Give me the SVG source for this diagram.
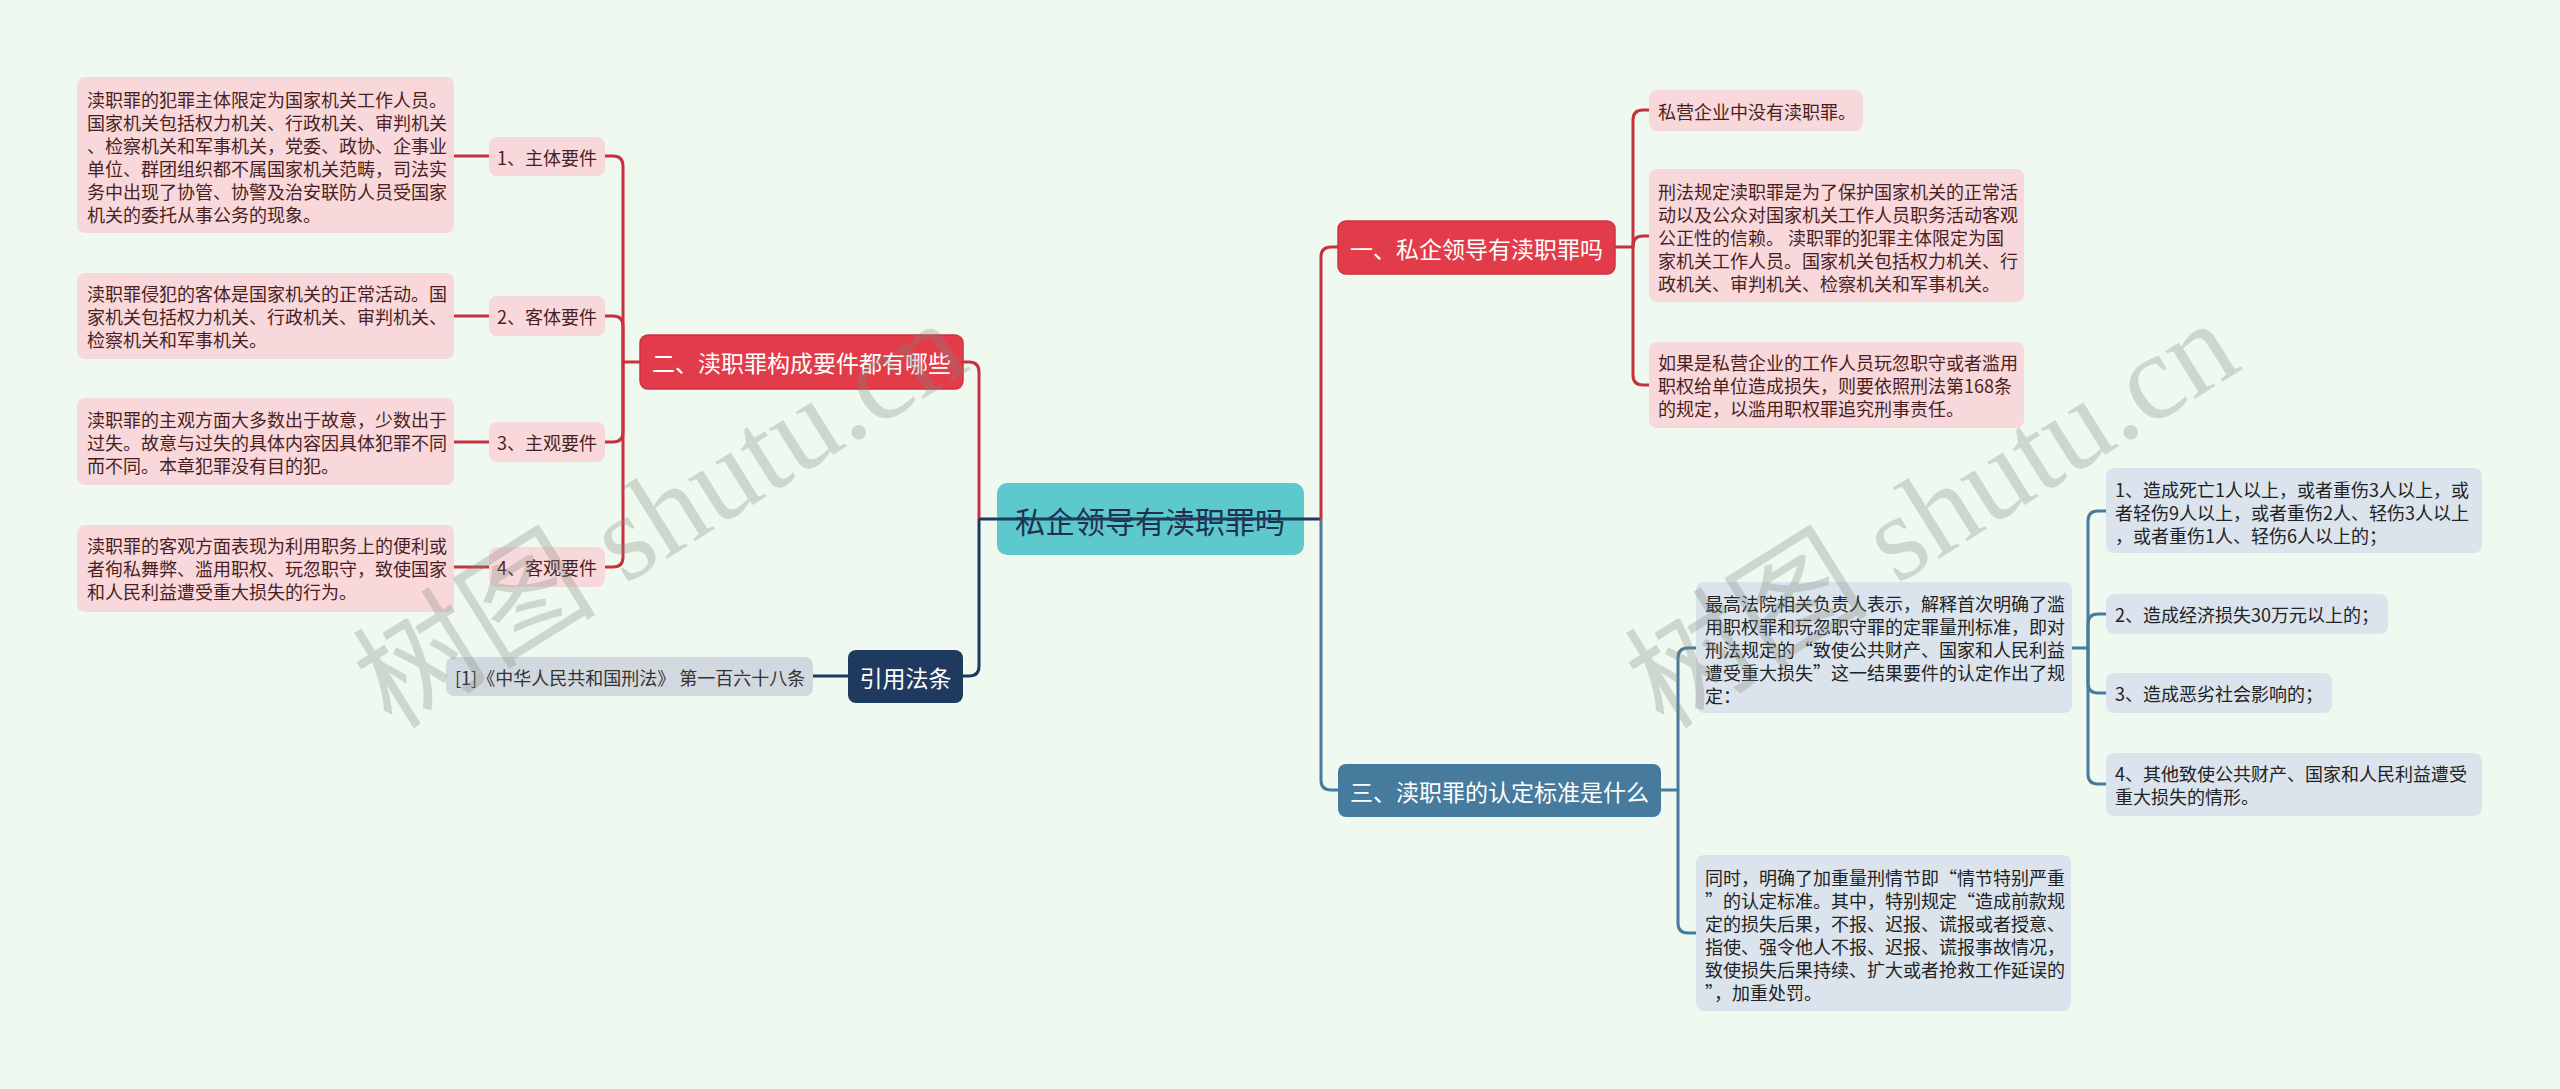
<svg xmlns="http://www.w3.org/2000/svg" width="2560" height="1089" viewBox="0 0 2560 1089">
<style>
text{font-family:"Noto Sans CJK SC","Liberation Sans",sans-serif;dominant-baseline:central}
.pk{fill:#f8d8db}
.pt{font-size:18px;fill:#4a1f22}
.bl{fill:#dbe4ec}
.bt{font-size:18px;fill:#222}
.red{fill:#e23c4a;stroke:#cf3140;stroke-width:1.5}
.wt{font-size:23px;fill:#fff;text-anchor:middle}
.c{fill:none;stroke-width:3;stroke-linejoin:round}
.cr{stroke:#c7313e}
.cn{stroke:#1f3a5f}
.cb{stroke:#467b9e}
.wm{font-family:"Liberation Serif","Noto Sans CJK SC",serif;font-size:122px;fill:#7f8a80;opacity:0.3;text-anchor:middle}
</style>
<rect width="2560" height="1089" fill="#f0f9ef"/>

<g id="center">
<rect x="997" y="483" width="307" height="72" rx="10" fill="#5ec9cc"/>
<text x="1150" y="520" style="font-size:30px;fill:#1e3250;text-anchor:middle">私企领导有渎职罪吗</text>
</g>

<g id="b2">
<rect class="red" x="640" y="335" width="323" height="54" rx="8"/>
<text class="wt" x="801.5" y="362">二、渎职罪构成要件都有哪些</text>
</g>
<g id="b2-1">
<rect class="pk" x="489" y="137" width="116" height="39" rx="8"/>
<text class="pt" x="547" y="156.5" text-anchor="middle">1、主体要件</text>
</g>
<g id="b2-1-t">
<rect class="pk" x="77" y="77" width="377" height="156" rx="8"/>
<text class="pt" x="87" y="99">渎职罪的犯罪主体限定为国家机关工作人员。</text>
<text class="pt" x="87" y="122">国家机关包括权力机关、行政机关、审判机关</text>
<text class="pt" x="87" y="145">、检察机关和军事机关，党委、政协、企事业</text>
<text class="pt" x="87" y="168">单位、群团组织都不属国家机关范畴，司法实</text>
<text class="pt" x="87" y="191">务中出现了协管、协警及治安联防人员受国家</text>
<text class="pt" x="87" y="214">机关的委托从事公务的现象。</text>
</g>
<g id="b2-2">
<rect class="pk" x="489" y="296" width="116" height="40" rx="8"/>
<text class="pt" x="547" y="316" text-anchor="middle">2、客体要件</text>
</g>
<g id="b2-2-t">
<rect class="pk" x="77" y="273" width="377" height="86" rx="8"/>
<text class="pt" x="87" y="293">渎职罪侵犯的客体是国家机关的正常活动。国</text>
<text class="pt" x="87" y="316">家机关包括权力机关、行政机关、审判机关、</text>
<text class="pt" x="87" y="339">检察机关和军事机关。</text>
</g>
<g id="b2-3">
<rect class="pk" x="489" y="422" width="116" height="40" rx="8"/>
<text class="pt" x="547" y="442" text-anchor="middle">3、主观要件</text>
</g>
<g id="b2-3-t">
<rect class="pk" x="77" y="398" width="377" height="87" rx="8"/>
<text class="pt" x="87" y="419">渎职罪的主观方面大多数出于故意，少数出于</text>
<text class="pt" x="87" y="442">过失。故意与过失的具体内容因具体犯罪不同</text>
<text class="pt" x="87" y="465">而不同。本章犯罪没有目的犯。</text>
</g>
<g id="b2-4">
<rect class="pk" x="489" y="547" width="116" height="40" rx="8"/>
<text class="pt" x="547" y="567" text-anchor="middle">4、客观要件</text>
</g>
<g id="b2-4-t">
<rect class="pk" x="77" y="525" width="377" height="87" rx="8"/>
<text class="pt" x="87" y="545">渎职罪的客观方面表现为利用职务上的便利或</text>
<text class="pt" x="87" y="568">者徇私舞弊、滥用职权、玩忽职守，致使国家</text>
<text class="pt" x="87" y="591">和人民利益遭受重大损失的行为。</text>
</g>

<g id="ref">
<rect x="848" y="650" width="115" height="53" rx="8" fill="#1f3a5f"/>
<text class="wt" x="905.5" y="676.5">引用法条</text>
</g>
<g id="ref-1">
<rect x="446" y="657" width="367" height="39" rx="8" fill="#d2d8df"/>
<text x="455" y="676.5" style="font-size:18px;fill:#333">[1]《中华人民共和国刑法》 第一百六十八条</text>
</g>

<g id="b1">
<rect class="red" x="1338" y="221" width="277" height="53" rx="8"/>
<text class="wt" x="1476.5" y="247.5">一、私企领导有渎职罪吗</text>
</g>
<g id="b1-1">
<rect class="pk" x="1649" y="90" width="214" height="41" rx="8"/>
<text class="pt" x="1658" y="111">私营企业中没有渎职罪。</text>
</g>
<g id="b1-2">
<rect class="pk" x="1649" y="169" width="375" height="133" rx="8"/>
<text class="pt" x="1658" y="191">刑法规定渎职罪是为了保护国家机关的正常活</text>
<text class="pt" x="1658" y="214">动以及公众对国家机关工作人员职务活动客观</text>
<text class="pt" x="1658" y="237">公正性的信赖。 渎职罪的犯罪主体限定为国</text>
<text class="pt" x="1658" y="260">家机关工作人员。国家机关包括权力机关、行</text>
<text class="pt" x="1658" y="283">政机关、审判机关、检察机关和军事机关。</text>
</g>
<g id="b1-3">
<rect class="pk" x="1649" y="342" width="375" height="86" rx="8"/>
<text class="pt" x="1658" y="362">如果是私营企业的工作人员玩忽职守或者滥用</text>
<text class="pt" x="1658" y="385">职权给单位造成损失，则要依照刑法第168条</text>
<text class="pt" x="1658" y="408">的规定，以滥用职权罪追究刑事责任。</text>
</g>

<g id="b3">
<rect x="1338" y="764" width="323" height="53" rx="8" fill="#467b9e"/>
<text class="wt" x="1499.5" y="790.5">三、渎职罪的认定标准是什么</text>
</g>
<g id="b3-1">
<rect class="bl" x="1696" y="582" width="376" height="131" rx="8"/>
<text class="bt" x="1705" y="603">最高法院相关负责人表示，解释首次明确了滥</text>
<text class="bt" x="1705" y="626">用职权罪和玩忽职守罪的定罪量刑标准，即对</text>
<text class="bt" x="1705" y="649">刑法规定的“致使公共财产、国家和人民利益</text>
<text class="bt" x="1705" y="672">遭受重大损失”这一结果要件的认定作出了规</text>
<text class="bt" x="1705" y="695">定：</text>
</g>
<g id="b3-1-1">
<rect class="bl" x="2106" y="468" width="376" height="85" rx="8"/>
<text class="bt" x="2115" y="489">1、造成死亡1人以上，或者重伤3人以上，或</text>
<text class="bt" x="2115" y="512">者轻伤9人以上，或者重伤2人、轻伤3人以上</text>
<text class="bt" x="2115" y="535">，或者重伤1人、轻伤6人以上的；</text>
</g>
<g id="b3-1-2">
<rect class="bl" x="2106" y="594" width="282" height="40" rx="8"/>
<text class="bt" x="2115" y="614">2、造成经济损失30万元以上的；</text>
</g>
<g id="b3-1-3">
<rect class="bl" x="2106" y="673" width="226" height="40" rx="8"/>
<text class="bt" x="2115" y="693">3、造成恶劣社会影响的；</text>
</g>
<g id="b3-1-4">
<rect class="bl" x="2106" y="753" width="376" height="63" rx="8"/>
<text class="bt" x="2115" y="773">4、其他致使公共财产、国家和人民利益遭受</text>
<text class="bt" x="2115" y="796">重大损失的情形。</text>
</g>
<g id="b3-2">
<rect class="bl" x="1696" y="855" width="375" height="156" rx="8"/>
<text class="bt" x="1705" y="877">同时，明确了加重量刑情节即“情节特别严重</text>
<text class="bt" x="1705" y="900">”的认定标准。其中，特别规定“造成前款规</text>
<text class="bt" x="1705" y="923">定的损失后果，不报、迟报、谎报或者授意、</text>
<text class="bt" x="1705" y="946">指使、强令他人不报、迟报、谎报事故情况，</text>
<text class="bt" x="1705" y="969">致使损失后果持续、扩大或者抢救工作延误的</text>
<text class="bt" x="1705" y="992">”，加重处罚。</text>
</g>

<g id="connectors">
<path class="c cr" d="M979 519 V372 Q979 362 969 362 H963"/>
<path class="c cn" d="M979 519 V666 Q979 676 969 676 H963"/>
<path class="c cn" d="M979 519 H1321"/>
<path class="c cr" d="M1321 519 V257 Q1321 247 1331 247 H1338"/>
<path class="c cb" d="M1321 519 V780 Q1321 790 1331 790 H1338"/>
<path class="c cr" d="M640 362 H623 V166 Q623 156 613 156 H605"/>
<path class="c cr" d="M623 362 V326 Q623 316 613 316 H605"/>
<path class="c cr" d="M623 362 V432 Q623 442 613 442 H605"/>
<path class="c cr" d="M623 362 V557 Q623 567 613 567 H605"/>
<path class="c cr" d="M489 156 H454 M489 316 H454 M489 442 H454 M489 567 H454"/>
<path class="c cn" d="M848 676 H813"/>
<path class="c cr" d="M1615 247 H1633 V120 Q1633 110 1643 110 H1649"/>
<path class="c cr" d="M1633 247 V246 Q1633 236 1643 236 H1649"/>
<path class="c cr" d="M1633 247 V375 Q1633 385 1643 385 H1649"/>
<path class="c cb" d="M1661 790 H1678 V658 Q1678 648 1688 648 H1696"/>
<path class="c cb" d="M1678 790 V923 Q1678 933 1688 933 H1696"/>
<path class="c cb" d="M2072 648 H2088 V521 Q2088 511 2098 511 H2106"/>
<path class="c cb" d="M2088 648 V624 Q2088 614 2098 614 H2106"/>
<path class="c cb" d="M2088 648 V683 Q2088 693 2098 693 H2106"/>
<path class="c cb" d="M2088 648 V774 Q2088 784 2098 784 H2106"/>
</g>

<text class="wm" x="660" y="514" transform="rotate(-32 660 514)">树图 shutu.cn</text>
<text class="wm" x="1932" y="514" transform="rotate(-32 1932 514)">树图 shutu.cn</text>
</svg>
